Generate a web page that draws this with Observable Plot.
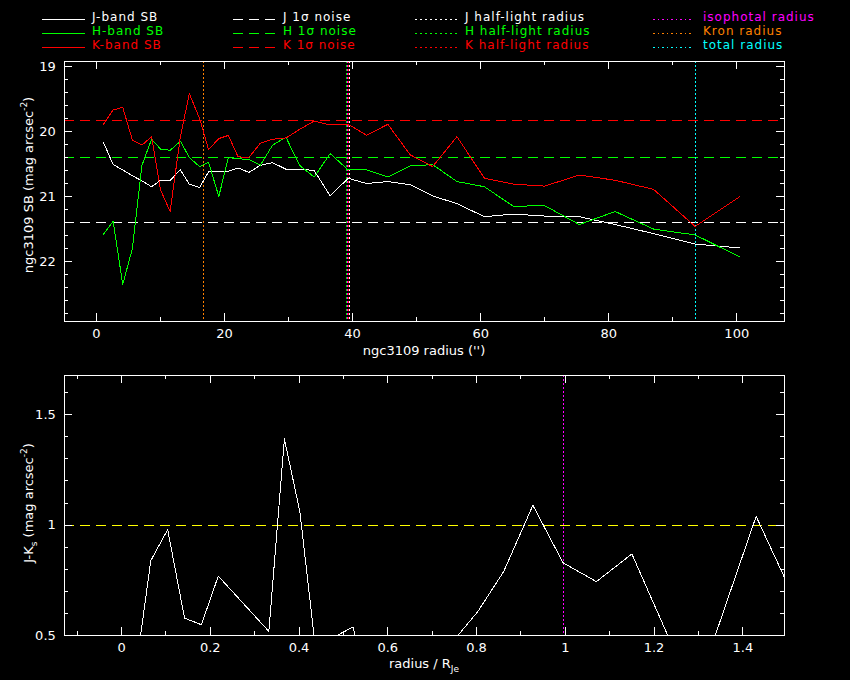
<!DOCTYPE html>
<html>
<head>
<meta charset="utf-8">
<script src="https://cdn.jsdelivr.net/npm/d3@7"></script>
<script src="https://cdn.jsdelivr.net/npm/@observablehq/plot@0.6"></script>
<style>
  html, body { margin: 0; padding: 0; background: #000; }
  #wrap { position: relative; width: 850px; height: 680px; background: #000; overflow: hidden; font-family: "DejaVu Sans", sans-serif; color: #fff; }
  .abs { position: absolute; }
  .xlab { font-size: 13px; line-height: 16px; text-align: center; white-space: nowrap; }
  .ylab { font-size: 13px; line-height: 16px; text-align: center; white-space: nowrap; transform: rotate(-90deg); }
  sup { font-size: 9px; vertical-align: 6px; line-height: 0; }
  sub { font-size: 9px; vertical-align: -4px; line-height: 0; }
</style>
</head>
<body>
<div id="wrap">
  <div id="p1" class="abs" style="left:0;top:0"></div>
  <div id="p2" class="abs" style="left:0;top:340px"></div>
  <svg id="legend" class="abs" style="left:0;top:0;z-index:5" width="850" height="58"></svg>
  <div class="abs xlab" style="left:64px;width:720px;top:343px">ngc3109 radius ('')</div>
  <div class="abs xlab" style="left:64px;width:720px;top:656px">radius / R<sub>Je</sub></div>
  <div class="abs ylab" style="left:-81px;width:220px;top:177px">ngc3109 SB (mag arcsec<sup>-2</sup>)</div>
  <div class="abs ylab" style="left:-81px;width:220px;top:495px">J-K<sub>s</sub> (mag arcsec<sup>-2</sup>)</div>
</div>
<script>
// ---------- data ----------
const radius = [1.1, 2.6, 4.1, 5.6, 7.1, 8.6, 10.0, 11.5, 13.1, 14.5, 16.1, 17.5, 19.1, 20.6, 22.1, 23.8, 25.6, 27.5, 29.6, 31.7, 34.0, 36.5, 39.3, 42.2, 45.5, 49.0, 52.5, 56.3, 60.6, 65.1, 70.0, 75.4, 81.0, 87.0, 93.5, 100.5];
const jSB = [20.17, 20.51, 20.59, 20.68, 20.76, 20.85, 20.75, 20.75, 20.59, 20.81, 20.86, 20.62, 20.61, 20.61, 20.56, 20.63, 20.52, 20.48, 20.58, 20.58, 20.60, 20.99, 20.72, 20.80, 20.77, 20.82, 20.99, 21.11, 21.31, 21.27, 21.30, 21.31, 21.43, 21.57, 21.73, 21.79];
const hSB = [21.58, 21.38, 22.35, 21.80, 20.52, 20.12, 20.27, 20.29, 20.15, 20.40, 20.54, 20.47, 21.00, 20.40, 20.42, 20.43, 20.52, 20.21, 20.09, 20.52, 20.70, 20.34, 20.59, 20.59, 20.70, 20.53, 20.51, 20.77, 20.85, 21.15, 21.14, 21.43, 21.23, 21.50, 21.59, 21.93];
const kSB = [19.89, 19.67, 19.63, 20.13, 20.21, 20.08, 20.90, 21.23, 20.08, 19.42, 19.80, 20.28, 20.11, 20.06, 20.39, 20.40, 20.18, 20.12, 20.10, 19.97, 19.84, 19.90, 19.89, 20.06, 19.89, 20.36, 20.54, 20.08, 20.72, 20.81, 20.84, 20.67, 20.75, 20.89, 21.46, 21.00];

const noiseLevels = [21.40, 20.40, 19.83];          // J, H, K 1-sigma noise
const noiseColors = ["#ffffff", "#00ff00", "#ff0000"];

const radiiNames = ["H half-light", "isophotal", "K half-light", "J half-light", "Kron", "total"];
const radiiValues = [39.05, 39.2, 39.3, 39.5, 16.7, 93.5];
const radiiColors = ["#00ff00", "#ff00ff", "#ff0000", "#ffffff", "#ff8000", "#00ffff"];

const colorRadius = [0.028, 0.066, 0.104, 0.142, 0.180, 0.218, 0.332, 0.367, 0.402, 0.443, 0.484, 0.522, 0.560, 0.603, 0.648, 0.696, 0.749, 0.803, 0.861, 0.927, 0.995, 1.070, 1.150, 1.240, 1.329, 1.430, 1.534];
const colorJK = [0.28, 0.84, 0.98, 0.58, 0.55, 0.77, 0.52, 1.39, 1.06, 0.34, 0.50, 0.54, 0.17, 0.23, 0.34, 0.36, 0.48, 0.61, 0.79, 1.09, 0.83, 0.745, 0.87, 0.46, 0.45, 1.04, 0.59];
const colorRef = [1.0];
const colorRadiusMark = [0.995];

const topXTicks = [0, 20, 40, 60, 80, 100];
const topXMinor = [10, 30, 50, 70, 90];
const topYTicks = [19, 20, 21, 22];
const topYMinor = [19.2, 19.4, 19.6, 19.8, 20.2, 20.4, 20.6, 20.8, 21.2, 21.4, 21.6, 21.8, 22.2, 22.4, 22.6, 22.8];
const botXTicks = [0, 0.2, 0.4, 0.6, 0.8, 1, 1.2, 1.4];
const botXMinor = [-0.1, 0.1, 0.3, 0.5, 0.7, 0.9, 1.1, 1.3];
const botYTicks = [0.5, 1, 1.5];
const botYMinor = [0.6, 0.7, 0.8, 0.9, 1.1, 1.2, 1.3, 1.4, 1.6];

const legendLabels = [
  ["J-band SB", "H-band SB", "K-band SB"],
  ["J 1σ noise", "H 1σ noise", "K 1σ noise"],
  ["J half-light radius", "H half-light radius", "K half-light radius"],
  ["isophotal radius", "Kron radius", "total radius"]
];
const legendColors = [
  ["#ffffff", "#00ff00", "#ff0000"],
  ["#ffffff", "#00ff00", "#ff0000"],
  ["#ffffff", "#00ff00", "#ff0000"],
  ["#ff00ff", "#ff8000", "#00ffff"]
];

// ---------- helpers ----------
const rows = radius.map((r, i) => ({r, J: jSB[i], H: hSB[i], K: kSB[i]}));
const jkRows = colorRadius.map((r, i) => ({r, v: colorJK[i]}));
const crisp = {shapeRendering: "crispEdges"};

function frameTicks(major, minor, yMajor, yMinor, fw, fh) {
  const M = 8, m = 4, s = {stroke: "#fff", strokeWidth: 1, ...crisp};
  return [
    Plot.ruleX(major, {x: d => d, ...s, insetTop: fh - M}),
    Plot.ruleX(minor, {x: d => d, ...s, insetTop: fh - m}),
    Plot.ruleX(major, {x: d => d, ...s, insetBottom: fh - M}),
    Plot.ruleX(minor, {x: d => d, ...s, insetBottom: fh - m}),
    Plot.ruleY(yMajor, {y: d => d, ...s, insetRight: fw - M}),
    Plot.ruleY(yMinor, {y: d => d, ...s, insetRight: fw - m}),
    Plot.ruleY(yMajor, {y: d => d, ...s, insetLeft: fw - M}),
    Plot.ruleY(yMinor, {y: d => d, ...s, insetLeft: fw - m})
  ];
}
const plotStyle = {background: "#000", color: "#fff", fontFamily: "DejaVu Sans, sans-serif", fontSize: "13px", overflow: "visible"};

// ---------- top panel ----------
const H1 = 372, MT1 = 61.3, MB1 = 51, ML = 64.3, MR = 65.7;
const fw = 850 - ML - MR, fh1 = H1 - MT1 - MB1;
const p1 = Plot.plot({
  width: 850, height: H1,
  marginTop: MT1, marginBottom: MB1, marginLeft: ML, marginRight: MR,
  style: plotStyle,
  x: {domain: [-4.95, 107.5]},
  y: {domain: [22.92, 18.93]},
  marks: [
    ...noiseLevels.map((v, i) => Plot.ruleY([v], {stroke: noiseColors[i], strokeWidth: 1, strokeDasharray: "10,6", ...crisp})),
    ...radiiValues.map((v, i) => Plot.ruleX([v], {stroke: radiiColors[i], strokeWidth: 1, strokeDasharray: "2,2", ...crisp})),
    Plot.line(rows, {x: "r", y: "J", stroke: "#ffffff", strokeWidth: 1, clip: true, ...crisp}),
    Plot.line(rows, {x: "r", y: "H", stroke: "#00ff00", strokeWidth: 1, clip: true, ...crisp}),
    Plot.line(rows, {x: "r", y: "K", stroke: "#ff0000", strokeWidth: 1, clip: true, ...crisp}),
    ...frameTicks(topXTicks, topXMinor, topYTicks, topYMinor, fw, fh1),
    Plot.frame({stroke: "#fff", strokeWidth: 1, ...crisp}),
    Plot.axisX(topXTicks, {tickSize: 0, tickPadding: 7, label: null, tickFormat: d => String(d)}),
    Plot.axisY(topYTicks, {tickSize: 0, tickPadding: 9, label: null, tickFormat: d => String(d)})
  ]
});
document.getElementById("p1").appendChild(p1);

// ---------- bottom panel ----------
const H2 = 340, MT2 = 35, MB2 = 44.7;
const fh2 = H2 - MT2 - MB2;
const p2 = Plot.plot({
  width: 850, height: H2,
  marginTop: MT2, marginBottom: MB2, marginLeft: ML, marginRight: MR,
  style: plotStyle,
  x: {domain: [-0.1278, 1.4946]},
  y: {domain: [0.5, 1.677]},
  marks: [
    Plot.ruleY(colorRef, {stroke: "#ffff00", strokeWidth: 1, strokeDasharray: "10,6", ...crisp}),
    Plot.ruleX(colorRadiusMark, {stroke: "#ff00ff", strokeWidth: 1, strokeDasharray: "2,2", ...crisp}),
    Plot.line(jkRows, {x: "r", y: "v", stroke: "#ffffff", strokeWidth: 1, clip: true, ...crisp}),
    ...frameTicks(botXTicks, botXMinor, botYTicks, botYMinor, fw, fh2),
    Plot.frame({stroke: "#fff", strokeWidth: 1, ...crisp}),
    Plot.axisX(botXTicks, {tickSize: 0, tickPadding: 7, label: null, tickFormat: d => String(d)}),
    Plot.axisY(botYTicks, {tickSize: 0, tickPadding: 9, label: null, tickFormat: d => String(d)})
  ]
});
document.getElementById("p2").appendChild(p2);

// ---------- legend ----------
const ns = "http://www.w3.org/2000/svg";
const leg = document.getElementById("legend");
const colX = [[42, 85, 92], [233, 277, 283], [415, 457, 465], [653, 693, 703]];
const rowY = [20, 34, 48];
const dashes = [null, "10,6", "1.5,3.5", "1.5,3"];
legendLabels.forEach((col, c) => {
  col.forEach((label, r) => {
    const ln = document.createElementNS(ns, "line");
    ln.setAttribute("x1", colX[c][0]); ln.setAttribute("x2", colX[c][1]);
    ln.setAttribute("y1", rowY[r] - 0.5); ln.setAttribute("y2", rowY[r] - 0.5);
    ln.setAttribute("stroke", legendColors[c][r]);
    ln.setAttribute("stroke-width", 1);
    ln.setAttribute("shape-rendering", "crispEdges");
    if (dashes[c]) ln.setAttribute("stroke-dasharray", dashes[c]);
    leg.appendChild(ln);
    const t = document.createElementNS(ns, "text");
    t.setAttribute("x", colX[c][2]); t.setAttribute("y", rowY[r] + 0.5);
    t.setAttribute("fill", legendColors[c][r]);
    t.setAttribute("font-family", "DejaVu Sans, sans-serif");
    t.setAttribute("font-size", "12");
    t.setAttribute("letter-spacing", "1");
    t.textContent = label;
    leg.appendChild(t);
  });
});
</script>
</body>
</html>
